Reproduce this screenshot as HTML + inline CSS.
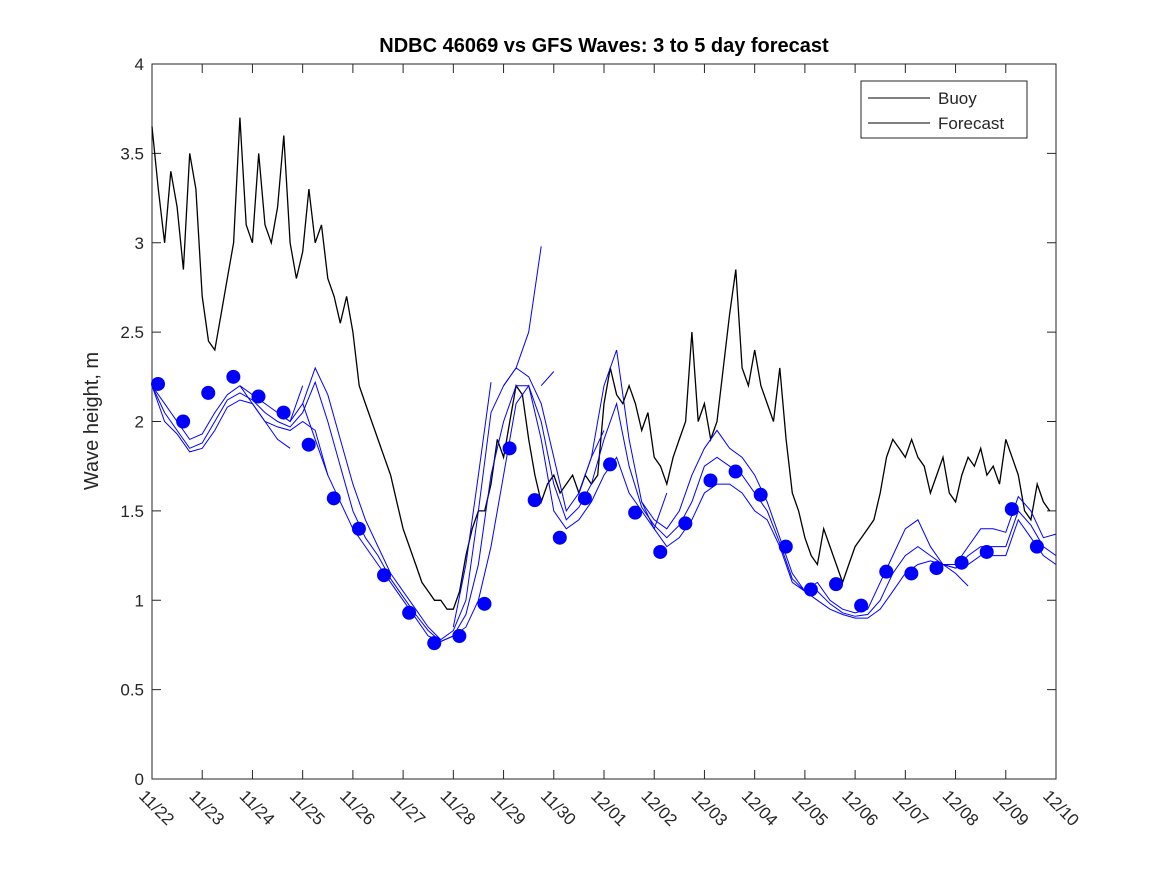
<!DOCTYPE html>
<html><head><meta charset="utf-8"><style>
body{margin:0;background:#fff;}
svg text{font-family:"Liberation Sans","DejaVu Sans",sans-serif;fill:#262626;}
</style></head><body>
<svg id="chart" width="1167" height="875" xmlns="http://www.w3.org/2000/svg">
<rect width="1167" height="875" fill="#fff"/>
<g id="plot"></g>
</svg>
<script>
const xTickLabels=["11/22","11/23","11/24","11/25","11/26","11/27","11/28","11/29","11/30","12/01","12/02","12/03","12/04","12/05","12/06","12/07","12/08","12/09","12/10"];
const yTicks=[0,0.5,1,1.5,2,2.5,3,3.5,4];
const yTickLabels=["0","0.5","1","1.5","2","2.5","3","3.5","4"];
const buoyStep=0.125;
const buoyValues=[3.65,3.3,3.0,3.4,3.2,2.85,3.5,3.3,2.7,2.45,2.4,2.6,2.8,3.0,3.7,3.1,3.0,3.5,3.1,3.0,3.2,3.6,3.0,2.8,2.95,3.3,3.0,3.1,2.8,2.7,2.55,2.7,2.5,2.2,2.1,2.0,1.9,1.8,1.7,1.55,1.4,1.3,1.2,1.1,1.05,1.0,1.0,0.95,0.95,1.05,1.25,1.4,1.5,1.5,1.65,1.9,1.8,2.0,2.2,2.15,1.9,1.7,1.55,1.65,1.7,1.6,1.65,1.7,1.6,1.7,1.65,1.7,2.1,2.3,2.15,2.1,2.2,2.1,1.95,2.05,1.8,1.75,1.65,1.8,1.9,2.0,2.5,2.0,2.1,1.9,2.0,2.3,2.6,2.85,2.3,2.2,2.4,2.2,2.1,2.0,2.3,1.9,1.6,1.5,1.35,1.25,1.2,1.4,1.3,1.2,1.1,1.2,1.3,1.35,1.4,1.45,1.6,1.8,1.9,1.85,1.8,1.9,1.8,1.75,1.6,1.7,1.8,1.6,1.55,1.7,1.8,1.75,1.85,1.7,1.75,1.65,1.9,1.8,1.7,1.5,1.45,1.65,1.55,1.5];
const fcStep=0.25;
const fcUpper=[2.2,2.1,2.0,1.9,1.93,2.05,2.15,2.2,2.15,2.1,2.05,2.0,2.1,2.3,2.15,1.9,1.65,1.45,1.3,1.15,1.05,0.95,0.85,0.78,0.83,1.0,1.5,2.05,2.2,2.3,2.25,2.1,1.8,1.5,1.6,1.8,2.2,2.4,1.9,1.55,1.45,1.4,1.5,1.7,1.85,1.95,1.85,1.8,1.7,1.55,1.35,1.15,1.05,1.1,1.0,0.95,0.93,0.95,1.1,1.25,1.4,1.45,1.3,1.2,1.2,1.3,1.4,1.4,1.38,1.58,1.5,1.35,1.37];
const fcMid=[2.2,2.05,1.95,1.85,1.88,2.0,2.12,2.16,2.12,2.05,2.0,1.97,2.05,2.22,2.0,1.75,1.5,1.35,1.25,1.12,1.02,0.92,0.83,0.77,0.8,0.92,1.2,1.7,2.0,2.2,2.2,2.0,1.65,1.45,1.52,1.65,1.9,2.1,1.75,1.52,1.42,1.35,1.42,1.55,1.75,1.8,1.75,1.7,1.6,1.5,1.32,1.12,1.05,1.05,0.98,0.93,0.91,0.92,1.0,1.15,1.25,1.3,1.25,1.2,1.18,1.25,1.3,1.3,1.3,1.5,1.42,1.3,1.25];
const fcLower=[2.2,2.0,1.93,1.83,1.85,1.95,2.08,2.12,2.1,2.0,1.97,1.95,2.0,1.95,1.7,1.55,1.4,1.3,1.2,1.1,1.0,0.9,0.8,0.77,0.8,0.85,1.0,1.3,1.7,2.1,2.2,1.9,1.5,1.4,1.45,1.55,1.7,1.8,1.6,1.5,1.4,1.3,1.35,1.45,1.6,1.65,1.65,1.6,1.5,1.45,1.3,1.1,1.05,1.0,0.95,0.92,0.9,0.9,0.95,1.05,1.15,1.2,1.22,1.2,1.18,1.2,1.25,1.25,1.25,1.45,1.35,1.25,1.2];
const tailStarts=[1.75,2.5,3.0,6.0,7.0,7.75,8.5,9.75,15.75];
const tailVals=[[2.2,2.1,2.0,1.9,1.85],[2.05,2.0,2.2],[2.1,1.9,1.7],[0.85,1.2,1.7,2.22],[2.2,2.3,2.5,2.98],[2.2,2.28],[1.6,1.8,1.95],[1.55,1.4,1.6],[1.2,1.15,1.08]];
const dotStart=0.12, dotStep=0.5;
const dotValues=[2.21,2.0,2.16,2.25,2.14,2.05,1.87,1.57,1.40,1.14,0.93,0.76,0.80,0.98,1.85,1.56,1.35,1.57,1.76,1.49,1.27,1.43,1.67,1.72,1.59,1.30,1.06,1.09,0.97,1.16,1.15,1.18,1.21,1.27,1.51,1.30];

const X0=152,X1=1056,Y0=779,Y1=64;
const xs=d=>X0+(X1-X0)*d/18;
const ys=v=>Y0-(Y0-Y1)*v/4;
const NS="http://www.w3.org/2000/svg";
const g=document.getElementById('plot');
function mk(t,a,p){const e=document.createElementNS(NS,t);for(const k in a)e.setAttribute(k,a[k]);(p||g).appendChild(e);return e;}
function pathFrom(start,step,vals){return vals.map((v,i)=>(i?'L':'M')+xs(start+i*step).toFixed(1)+' '+ys(v).toFixed(1)).join(' ');}

const box=mk('rect',{x:X0,y:Y1,width:X1-X0,height:Y0-Y1,fill:'none',stroke:'#262626','stroke-width':1});



xTickLabels.forEach((lab,i)=>{
  const x=xs(i);
  const t1=mk('line',{x1:x,y1:Y0,x2:x,y2:Y0-9,stroke:'#262626'});
  
  
  mk('line',{x1:x,y1:Y1,x2:x,y2:Y1+9,stroke:'#262626'});
  const t=mk('text',{x:x-14,y:Y0+18,'font-size':17,transform:`rotate(45 ${x-14} ${Y0+18})`});
  t.textContent=lab;
  
  
});
yTicks.forEach((v,i)=>{
  const y=ys(v);
  const t1=mk('line',{x1:X0,y1:y,x2:X0+9,y2:y,stroke:'#262626'});
  
  
  mk('line',{x1:X1,y1:y,x2:X1-9,y2:y,stroke:'#262626'});
  const t=mk('text',{x:X0-8,y:y+6,'font-size':17,'text-anchor':'end'});
  t.textContent=yTickLabels[i];
  
  
});

const bl=mk('path',{d:pathFrom(0,buoyStep,buoyValues),fill:'none',stroke:'#000','stroke-width':1.3});



[fcUpper,fcMid,fcLower].forEach(arr=>{
  const p=mk('path',{d:pathFrom(0,fcStep,arr),fill:'none',stroke:'#0000ff','stroke-width':1});
  
  
});
tailVals.forEach((arr,i)=>{
  const p=mk('path',{d:pathFrom(tailStarts[i],fcStep,arr),fill:'none',stroke:'#0000ff','stroke-width':1});
  
  
});
dotValues.forEach((v,i)=>{
  const c=mk('circle',{cx:xs(dotStart+i*dotStep),cy:ys(v),r:7,fill:'#0000ff'});
  
  
});

const ti=mk('text',{x:604,y:52,'font-size':20,'font-weight':'bold','text-anchor':'middle',style:'fill:#000'});
ti.textContent='NDBC 46069 vs GFS Waves: 3 to 5 day forecast';


const yl=mk('text',{x:98,y:421,'font-size':20,'text-anchor':'middle',transform:'rotate(-90 98 421)'});
yl.textContent='Wave height, m';



const lg=mk('g',{});


mk('rect',{x:861,y:81,width:166,height:57,fill:'#fff',stroke:'#262626'},lg);
[['Buoy',98],['Forecast',123]].forEach(([n,y])=>{
  const e=mk('g',{},lg);
  
  
  mk('line',{x1:868,y1:y,x2:930,y2:y,stroke:'#000'},e);
  const t=mk('text',{x:938,y:y+6,'font-size':17},e);
  t.textContent=n;
});
</script>
</body></html>
